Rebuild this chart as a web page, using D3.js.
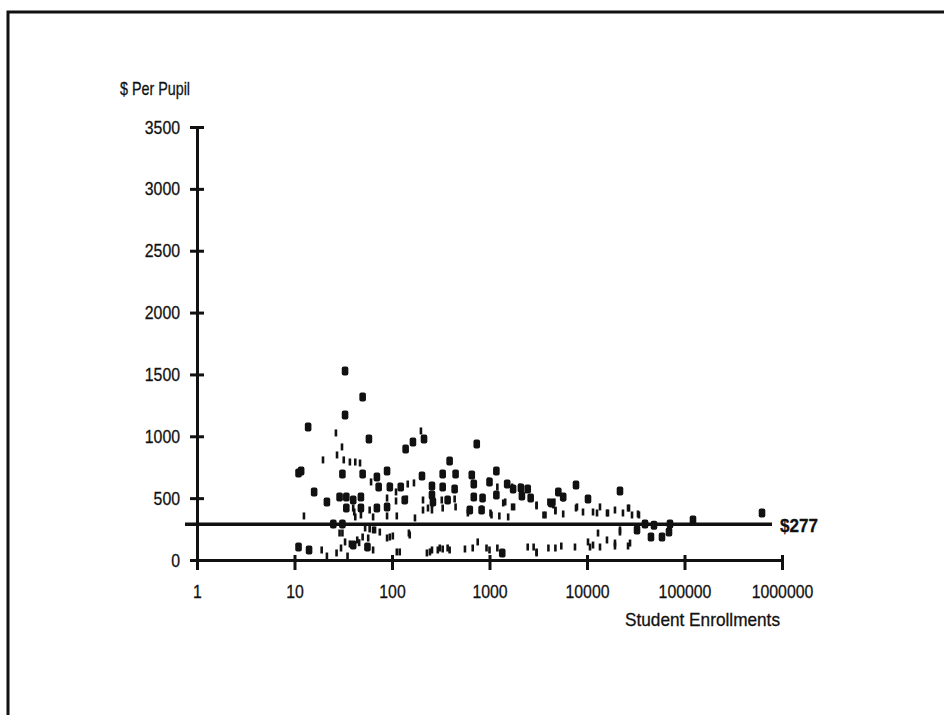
<!DOCTYPE html>
<html>
<head>
<meta charset="utf-8">
<script src="https://cdn.jsdelivr.net/npm/d3@7"></script>
<style>
  body { margin: 0; background: #fff; }
  text { font-family: "Liberation Sans Narrow", "Arial Narrow", "Liberation Sans", sans-serif; fill: #111; stroke: #111; stroke-width: 0.3px; }
</style>
</head>
<body>
<div class="chart"></div>
<script>
// tick labels
const enrollTicks = [1, 10, 100, 1000, 10000, 100000, 1000000]
const dollarTicks = [0, 500, 1000, 1500, 2000, 2500, 3000, 3500]
const statewideAvg = 277

// districts drawn as bold marks: [enrollment, $ per pupil]
const boldDistricts = [
  [11, 703], [13.8, 1075], [15.9, 550], [21.5, 469], [11, 105], [14.1, 81],
  [33, 1528], [50, 1318], [33, 1172], [58, 978], [31, 695], [50, 695], [11.7, 720],
  [29, 509], [34, 509], [40, 485], [48, 509], [34, 420], [48, 420], [70, 420],
  [70, 671], [73, 590], [138, 897], [164, 954], [213, 978], [740, 938], [390, 800],
  [89, 720], [203, 679], [331, 695], [449, 695], [658, 687], [1176, 720],
  [95, 590], [123, 590], [257, 598], [331, 590], [439, 574], [690, 614], [1000, 631],
  [1518, 614], [1746, 574], [2466, 574], [2100, 582], [7710, 606], [21790, 558],
  [5080, 550], [89, 429], [135, 485], [257, 526], [263, 469], [372, 485], [690, 509],
  [849, 501], [1176, 526], [2150, 517], [2645, 501], [628, 404], [830, 404],
  [45310, 186], [58780, 186], [69320, 226], [122200, 323], [623700, 380], [1351, 57],
  [31, 290], [25, 290], [39350, 290], [48650, 280], [71000, 290], [32580, 243],
  [10240, 493], [5700, 509], [4310, 461], [56, 105], [40, 121]
]

// districts drawn as thin marks
const thinDistricts = [
  [12.5, 356], [19.6, 809], [26.6, 1027], [30.7, 914], [27.3, 849], [32, 809], [37, 792],
  [42, 792], [47, 784], [61, 631], [93, 598], [110, 550], [145, 614], [168, 623], [198, 1043],
  [40, 420], [59, 404], [89, 501], [110, 477], [142, 493], [208, 485], [324, 485],
  [208, 404], [257, 404], [331, 420], [42, 348], [64, 348], [89, 356], [112, 356], [172, 340],
  [41, 388], [48, 364], [257, 453], [439, 493], [449, 429], [1024, 380], [1449, 469],
  [1705, 429], [3040, 445], [4740, 396], [5700, 372], [3750, 364], [7890, 429], [9100, 388],
  [10000, 493], [12670, 380], [977, 639], [1204, 590], [1705, 590], [2050, 590], [1383, 461],
  [4120, 461], [4630, 469], [7710, 420], [13590, 429], [16410, 380], [19360, 404],
  [23380, 380], [26970, 420], [34130, 364], [234, 420], [1787, 429], [3040, 437],
  [3580, 364], [4740, 404], [1048, 364], [1262, 356], [1554, 348], [11530, 388],
  [16030, 380], [26350, 420], [28950, 364], [33340, 372], [4020, 469], [4520, 445],
  [5700, 501], [12970, 218], [21790, 226], [32580, 259], [830, 412], [600, 380],
  [29, 218], [59, 251], [67, 243], [89, 178], [102, 194], [152, 202], [33, 146], [44, 162],
  [57, 178], [31, 218], [53, 259], [64, 243], [50, 186], [75, 226], [95, 186], [149, 218],
  [64, 81], [112, 65], [120, 65], [228, 57], [257, 81], [295, 81], [331, 89], [390, 81],
  [560, 89], [673, 97], [757, 146], [932, 97], [1000, 81], [1204, 97], [3040, 57],
  [4020, 97], [4740, 97], [5450, 113], [7530, 105], [10240, 146], [10740, 105],
  [245, 65], [309, 97], [372, 97], [2836, 105], [3040, 65], [11530, 121], [16030, 162],
  [19360, 137], [21790, 243], [27610, 137], [13590, 105], [19360, 113], [26350, 113],
  [19, 81], [21.5, 32], [27, 57], [30, 97], [35, 32], [37, 130], [46, 140], [2466, 105]
]

const W = 944, H = 715
const fmt = d3.format("d")
const digitW = 8.8 // condensed look of the scanned labels
const svg = d3.select(".chart").append("svg").attr("width", W).attr("height", H)

// page frame
svg.append("path")
  .attr("d", `M8,${H} L8,12 L${W},12`)
  .attr("fill", "none").attr("stroke", "#111").attr("stroke-width", 3)

const x = d3.scaleLog().domain([1, 1000000]).range([197, 782])
const y = d3.scaleLinear().domain([0, 3500]).range([560, 127])

// y axis
const yAxis = svg.append("g").attr("transform", "translate(197,0)")
  .call(d3.axisLeft(y).tickValues(dollarTicks).tickFormat(fmt).tickSizeOuter(0).tickSizeInner(7).tickPadding(10))
yAxis.select(".domain").attr("stroke", "#111").attr("stroke-width", 3)
yAxis.selectAll(".tick line").attr("x1", -7).attr("x2", 7).attr("stroke", "#111").attr("stroke-width", 3)
yAxis.selectAll(".tick text").attr("font-size", 19).style("font-family", null)
  .attr("textLength", d => fmt(d).length * digitW).attr("lengthAdjust", "spacingAndGlyphs")

// x axis
const xAxis = svg.append("g").attr("transform", "translate(0,560)")
  .call(d3.axisBottom(x).tickValues(enrollTicks).tickFormat(fmt).tickSizeOuter(0).tickSizeInner(10).tickPadding(15))
xAxis.select(".domain").attr("stroke", "#111").attr("stroke-width", 3)
xAxis.selectAll(".tick line").attr("y1", -5).attr("y2", 10).attr("stroke", "#111").attr("stroke-width", 3)
xAxis.selectAll(".tick text").attr("font-size", 19).style("font-family", null)
  .attr("textLength", d => fmt(d).length * digitW).attr("lengthAdjust", "spacingAndGlyphs")

// axis titles
svg.append("text").attr("x", 120).attr("y", 95).attr("font-size", 19)
  .attr("textLength", 70).attr("lengthAdjust", "spacingAndGlyphs").text("$ Per Pupil")
svg.append("text").attr("x", 625).attr("y", 626).attr("font-size", 19)
  .attr("textLength", 155).attr("lengthAdjust", "spacingAndGlyphs").text("Student Enrollments")

// average line
svg.append("line")
  .attr("x1", 185).attr("x2", 772)
  .attr("y1", y(statewideAvg) - 1.5).attr("y2", y(statewideAvg) - 1.5)
  .attr("stroke", "#111").attr("stroke-width", 3.5)
svg.append("text").attr("x", 780).attr("y", y(statewideAvg) + 6)
  .attr("font-size", 19).attr("font-weight", "bold")
  .attr("textLength", 38).attr("lengthAdjust", "spacingAndGlyphs").text("$" + statewideAvg)

// points
svg.append("g").selectAll("rect").data(thinDistricts).join("rect")
  .attr("x", d => x(d[0]) - 1.3).attr("y", d => y(d[1]) - 3.5)
  .attr("width", 2.6).attr("height", 7)
  .attr("fill", "#111")

svg.append("g").selectAll("rect").data(boldDistricts).join("rect")
  .attr("x", d => x(d[0]) - 3.3).attr("y", d => y(d[1]) - 4.5)
  .attr("width", 6.6).attr("height", 9).attr("rx", 2)
  .attr("fill", "#111")
</script>
</body>
</html>
